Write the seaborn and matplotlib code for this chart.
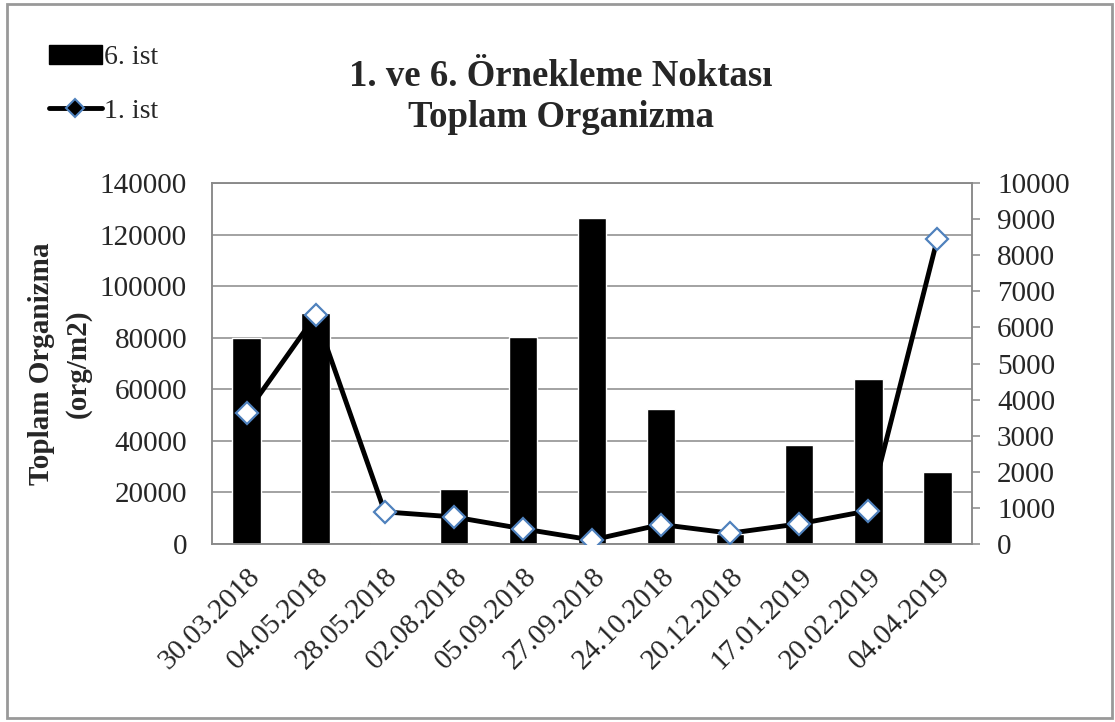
import numpy as np
import pandas as pd
import matplotlib
matplotlib.use("Agg")
import matplotlib.pyplot as plt
import seaborn as sns
from matplotlib.patches import Rectangle, Patch
from matplotlib.lines import Line2D

# data
dates = ["30.03.2018", "04.05.2018", "28.05.2018", "02.08.2018", "05.09.2018",
         "27.09.2018", "24.10.2018", "20.12.2018", "17.01.2019", "20.02.2019",
         "04.04.2019"]
ist6 = [79800, 89500, 300, 21300, 80300, 126400, 52400, 4000, 38400, 64000, 27900]
ist1 = [3630, 6330, 890, 750, 420, 110, 540, 300, 560, 920, 8460]

sns.set_style("white")
plt.rcParams["font.family"] = ["Liberation Serif", "DejaVu Serif"]

grey = "#898989"
blue = "#4F81BD"

df = pd.DataFrame({"tarih": dates, "ist6": ist6, "ist1": ist1,
                   "pos": np.arange(len(dates))})

fig = plt.figure(figsize=(11.15, 7.22), dpi=100)
ax = fig.add_axes([212 / 1115, 1 - 544 / 722, 760 / 1115, 361 / 722])

sns.barplot(data=df, x="tarih", y="ist6", color="black", width=0.41,
            saturation=1, ax=ax, zorder=2)
ax.set_ylim(0, 140000)
ax.set_yticks(np.arange(0, 140001, 20000))
ax.grid(axis="y", color=grey, lw=1.1, zorder=0)
ax.set_axisbelow(True)
ax.set_xlim(-0.5, len(dates) - 0.5)
ax.set_xlabel("")
ax.set_ylabel("Toplam Organizma\n(org/m2)", fontsize=21, fontweight="bold",
              labelpad=6, linespacing=1.45)
ax.tick_params(axis="y", length=0, pad=18, labelsize=21)
ax.tick_params(axis="x", length=0, pad=14, labelsize=21)
plt.setp(ax.get_xticklabels(), rotation=45, ha="right", rotation_mode="anchor")
for s in ax.spines.values():
    s.set_color(grey)
    s.set_linewidth(1.1)

ax2 = ax.twinx()
sns.lineplot(data=df, x="pos", y="ist1", color="black", lw=3.5, marker="D",
             markersize=11, markerfacecolor="white", markeredgecolor=blue,
             markeredgewidth=1.6, ax=ax2, zorder=3)
ax2.set_ylim(0, 10000)
ax2.set_yticks(np.arange(0, 10001, 1000))
ax2.set_ylabel("")
ax2.tick_params(axis="y", direction="out", length=6, width=1.1, color=grey,
                pad=12, labelsize=21)
ax2.set_xlim(-0.5, len(dates) - 0.5)
for s in ax2.spines.values():
    s.set_color(grey)
    s.set_linewidth(1.1)

fig.text(561 / 1115, 1 - 97 / 722, "1. ve 6. Örnekleme Noktası\nToplam Organizma",
         ha="center", va="center", fontsize=26.5, fontweight="bold", linespacing=1.25)

handles = [Patch(facecolor="black", edgecolor="black"),
           Line2D([0], [0], color="black", lw=3.5, marker="D", markersize=9,
                  markerfacecolor="black", markeredgecolor=blue, markeredgewidth=1.5)]
fig.legend(handles, ["6. ist", "1. ist"], loc="upper left",
           bbox_to_anchor=(35 / 1115, 1 - 31 / 722), frameon=False, fontsize=20,
           handlelength=1.9, handletextpad=0.1, labelspacing=1.0, borderpad=0)

fig.patches.append(Rectangle((7 / 1115, 4 / 722), 1105 / 1115, 714 / 722,
                             transform=fig.transFigure, fill=False,
                             edgecolor="#999999", lw=2))

fig.savefig("out.png", dpi=100)
